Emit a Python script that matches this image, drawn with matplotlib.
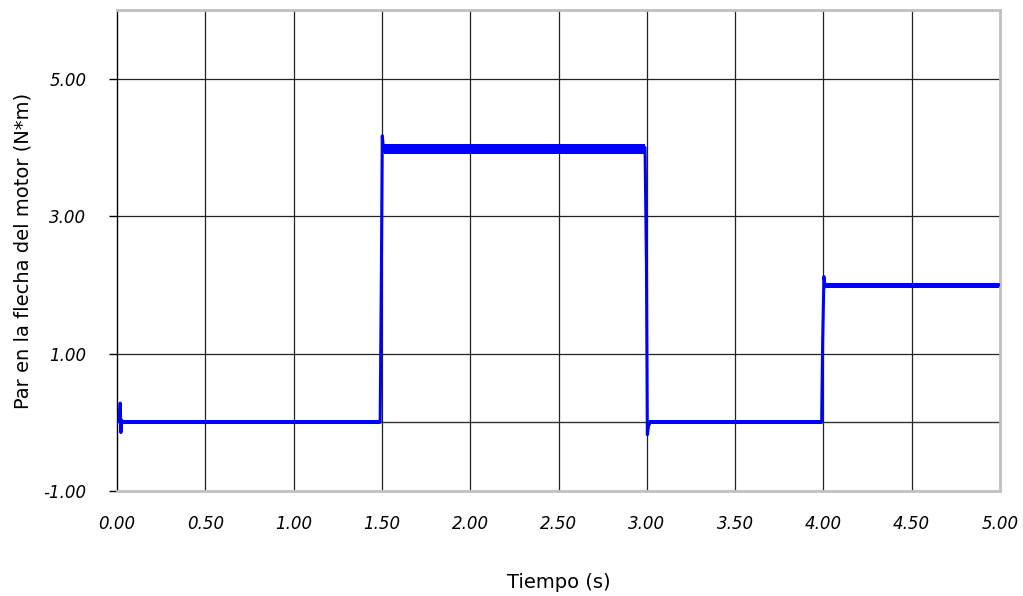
import matplotlib.pyplot as plt

# shaft torque trace (s, N*m)
time_s = [0.0, 0.012, 0.018, 0.022, 0.026, 0.03, 1.49, 1.497, 1.502,
          1.51, 1.52, 2.99, 2.998, 3.003, 3.01, 3.02, 3.99, 3.996,
          4.003, 4.01, 4.02, 5.0]
torque = [0.0, 0.02, 0.28, -0.15, 0.03, 0.0, 0.0, 2.2, 4.17,
          3.95, 4.0, 4.0, 2.3, -0.18, -0.05, 0.0, 0.0, 1.2,
          2.12, 1.97, 2.0, 2.0]

# visible ripple band on each plateau: start, end, level, half-width
band_start = [0.02, 1.51, 3.01, 4.01]
band_end = [1.49, 2.99, 3.99, 5.0]
band_level = [0.0, 3.98, 0.0, 1.99]
band_half = [0.03, 0.07, 0.03, 0.04]

x_ticks = [0.0, 0.5, 1.0, 1.5, 2.0, 2.5, 3.0, 3.5, 4.0, 4.5, 5.0]
y_ticks = [-1.0, 1.0, 3.0, 5.0]

blue = "#0000ff"

fig = plt.figure(figsize=(10.23, 5.96), dpi=100)
ax = fig.add_axes([0.1144, 0.1762, 0.8631, 0.807])

ax.set_xlim(0, 5)
ax.set_ylim(-1, 6)

for x in x_ticks[1:]:
    ax.axvline(x, color="#222222", linewidth=0.9, zorder=1)
for y in y_ticks[1:]:
    ax.axhline(y, color="#222222", linewidth=0.9, zorder=1)
ax.axhline(0, color="#333333", linewidth=1.0, zorder=1)

for x0, x1, lvl, hw in zip(band_start, band_end, band_level, band_half):
    ax.fill_between([x0, x1], lvl - hw, lvl + hw, color=blue,
                    linewidth=0, zorder=2)

ax.plot(time_s, torque, color=blue, linewidth=2.2, zorder=3)

ax.set_xticks(x_ticks)
ax.set_xticklabels([f"{v:.2f}" for v in x_ticks], fontstyle="italic",
                   fontsize=12)
ax.set_yticks(y_ticks)
ax.set_yticklabels([f"{v:.2f}" for v in y_ticks], fontstyle="italic",
                   fontsize=12)

ax.tick_params(axis="x", length=0, pad=17)
ax.tick_params(axis="y", direction="out", length=6, width=1, color="black",
               pad=16)

for side in ["top", "right", "bottom"]:
    ax.spines[side].set_color("#c0c0c0")
    ax.spines[side].set_linewidth(2)
ax.spines["left"].set_color("black")
ax.spines["left"].set_linewidth(1)

ax.set_xlabel("Tiempo (s)", fontsize=14, labelpad=29)
ax.set_ylabel("Par en la flecha del motor (N*m)", fontsize=14, labelpad=8)

fig.savefig("out.png", dpi=100)
